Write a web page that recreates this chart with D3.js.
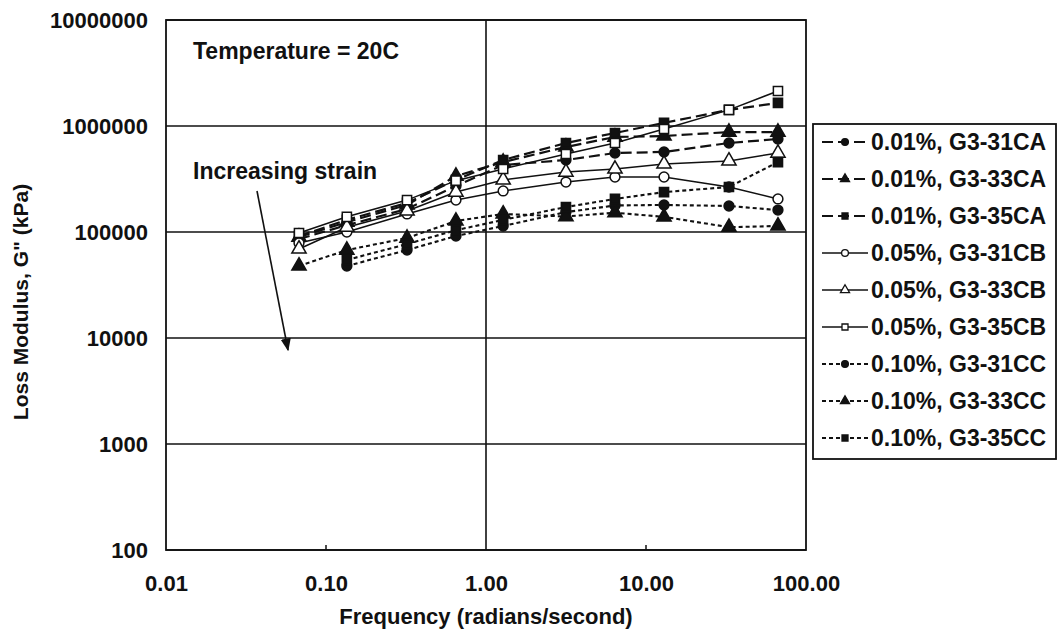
<!DOCTYPE html>
<html>
<head>
<meta charset="utf-8">
<script src="https://cdn.jsdelivr.net/npm/d3@7"></script>
<style>
  body { margin: 0; background: #fff; }
  text { font-family: "Liberation Sans", Arial, Helvetica, sans-serif; font-weight: bold; fill: #111; }
</style>
</head>
<body>
<svg id="chart" width="1059" height="633"></svg>
<script>
// Frequency sweep (radians/second)
const frequencies = [0.0678, 0.135, 0.321, 0.649, 1.28, 3.16, 6.4, 12.96, 33.0, 66.8];

// Loss modulus G'' (kPa) per specimen; null = not measured
const g31CA = [85900, 116000, 165000, 272000, 428000, 478000, 556000, 569000, 691000, 754000];
const g33CA = [89600, 124000, 180000, 337000, 457000, 634000, 787000, 805000, 877000, 877000];
const g35CA = [91600, 130000, 188000, 310000, 478000, 691000, 859000, 1070000, 1420000, 1650000];
const g31CB = [78700, 100000, 148000, 200000, 244000, 296000, 330000, 330000, 266000, 205000];
const g33CB = [69200, 111000, 158000, 238000, 310000, 368000, 393000, 438000, 468000, 556000];
const g35CB = [97900, 139000, 200000, 305000, 393000, 544000, 691000, 937000, 1420000, 2140000];
const g31CC = [null, 47800, 67600, 91600, 114000, 154000, 178000, 180000, 176000, 161000];
const g33CC = [47800, 67600, 87700, 127000, 148000, 140000, 152000, 139000, 111000, 114000];
const g35CC = [null, 54500, 77000, 104000, 130000, 172000, 205000, 238000, 266000, 457000];

const seriesLabels = ["0.01%, G3-31CA", "0.01%, G3-33CA", "0.01%, G3-35CA",
                      "0.05%, G3-31CB", "0.05%, G3-33CB", "0.05%, G3-35CB",
                      "0.10%, G3-31CC", "0.10%, G3-33CC", "0.10%, G3-35CC"];
const seriesData = [g31CA, g33CA, g35CA, g31CB, g33CB, g35CB, g31CC, g33CC, g35CC];

const yTicks = [100, 1000, 10000, 100000, 1000000, 10000000];
const xTicks = [0.01, 0.1, 1, 10, 100];

// Line style by strain level, marker by mix
const dashByStrain = ["11,5", null, "4,3"];
const widthByStrain = [2.2, 1.5, 2.1];
const shapeByMix = [d3.symbolCircle, d3.symbolTriangle, d3.symbolSquare];
const filledByStrain = [true, false, true];

const svg = d3.select("#chart");
const plotLeft = 166, plotRight = 806, plotTop = 20, plotBottom = 550;

const x = d3.scaleLog().domain([0.01, 100]).range([plotLeft, plotRight]);
const y = d3.scaleLog().domain([100, 10000000]).range([plotBottom, plotTop]);

// Horizontal grid at each decade
svg.append("g").selectAll("line").data(yTicks).join("line")
  .attr("x1", plotLeft).attr("x2", plotRight)
  .attr("y1", d => y(d)).attr("y2", d => y(d))
  .attr("stroke", "#111").attr("stroke-width", 1.6);

// Vertical line at 1 rad/s
svg.append("line")
  .attr("x1", x(1)).attr("x2", x(1)).attr("y1", plotTop).attr("y2", plotBottom)
  .attr("stroke", "#111").attr("stroke-width", 1.6);

// Plot frame
svg.append("rect").attr("x", plotLeft).attr("y", plotTop)
  .attr("width", plotRight - plotLeft).attr("height", plotBottom - plotTop)
  .attr("fill", "none").attr("stroke", "#111").attr("stroke-width", 1.8);

// Small inner ticks on the frequency axis
svg.append("g").selectAll("line").data([0.1, 10]).join("line")
  .attr("x1", d => x(d)).attr("x2", d => x(d))
  .attr("y1", plotBottom).attr("y2", plotBottom - 5)
  .attr("stroke", "#111").attr("stroke-width", 1.5);

// Axis labels via d3 axes
const yAxis = svg.append("g").attr("transform", `translate(${plotLeft - 15},0)`)
  .call(d3.axisLeft(y).tickValues(yTicks).tickFormat(d3.format("d")).tickSize(0));
yAxis.select(".domain").remove();
yAxis.selectAll("text").attr("font-size", 22).attr("dy", "0.36em");

const xAxis = svg.append("g").attr("transform", `translate(0,${plotBottom + 22})`)
  .call(d3.axisBottom(x).tickValues(xTicks).tickFormat(d3.format(".2f")).tickSize(0));
xAxis.select(".domain").remove();
xAxis.selectAll("text").attr("font-size", 22);

svg.append("text")
  .attr("x", x(1)).attr("y", 624).attr("text-anchor", "middle")
  .attr("font-size", 22).text("Frequency (radians/second)");

svg.append("text")
  .attr("transform", `translate(28,${302}) rotate(-90)`)
  .attr("text-anchor", "middle").attr("font-size", 21)
  .text("Loss Modulus, G\" (kPa)");

// Annotations
svg.append("text").attr("x", 193).attr("y", 59).attr("font-size", 23)
  .text("Temperature = 20C");
svg.append("text").attr("x", 193).attr("y", 179).attr("font-size", 23)
  .text("Increasing strain");

svg.append("defs").append("marker")
  .attr("id", "arrowhead").attr("viewBox", "0 0 10 10")
  .attr("refX", 9).attr("refY", 5).attr("markerWidth", 8).attr("markerHeight", 8)
  .attr("orient", "auto")
  .append("path").attr("d", "M0,1 L10,5 L0,9 Z").attr("fill", "#111");
svg.append("line")
  .attr("x1", 257).attr("y1", 191).attr("x2", 288).attr("y2", 350)
  .attr("stroke", "#111").attr("stroke-width", 1.6)
  .attr("marker-end", "url(#arrowhead)");

// Series
const line = d3.line()
  .defined(d => d.v != null)
  .x(d => x(d.f)).y(d => y(d.v));

const symbolSize = [76, 88, 84];

seriesData.forEach((vals, i) => {
  const strain = Math.floor(i / 3), mix = i % 3;
  const pts = vals.map((v, j) => ({ f: frequencies[j], v }));
  svg.append("path").datum(pts)
    .attr("d", line)
    .attr("fill", "none").attr("stroke", "#111")
    .attr("stroke-width", widthByStrain[strain])
    .attr("stroke-dasharray", dashByStrain[strain]);
  svg.append("g").selectAll("path").data(pts.filter(d => d.v != null)).join("path")
    .attr("transform", d => `translate(${x(d.f)},${y(d.v)})`)
    .attr("d", d3.symbol().type(shapeByMix[mix]).size(symbolSize[mix]))
    .attr("fill", filledByStrain[strain] ? "#111" : "#fff")
    .attr("stroke", "#111").attr("stroke-width", 1.5);
});

// Legend
const lg = svg.append("g");
lg.append("rect").attr("x", 813).attr("y", 124).attr("width", 243).attr("height", 335)
  .attr("fill", "#fff").attr("stroke", "#111").attr("stroke-width", 1.8);
seriesLabels.forEach((label, i) => {
  const strain = Math.floor(i / 3), mix = i % 3;
  const cy = 142 + i * 37;
  lg.append("line").attr("x1", 822).attr("x2", 868).attr("y1", cy).attr("y2", cy)
    .attr("stroke", "#111").attr("stroke-width", widthByStrain[strain])
    .attr("stroke-dasharray", dashByStrain[strain]);
  lg.append("path").attr("transform", `translate(845,${cy})`)
    .attr("d", d3.symbol().type(shapeByMix[mix]).size(36))
    .attr("fill", filledByStrain[strain] ? "#111" : "#fff")
    .attr("stroke", "#111").attr("stroke-width", 1.3);
  lg.append("text").attr("x", 871).attr("y", cy).attr("dy", "0.36em")
    .attr("font-size", 23).text(label);
});
</script>
</body>
</html>
